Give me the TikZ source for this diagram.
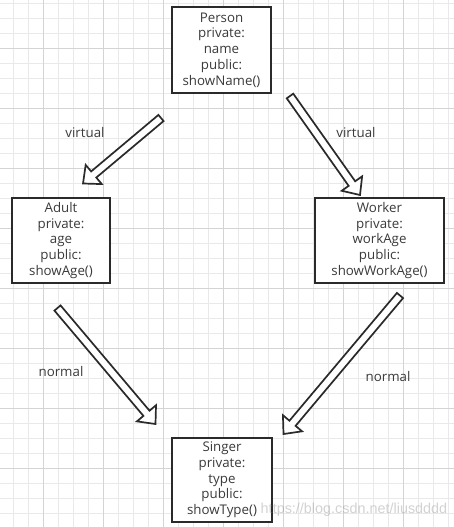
\documentclass[tikz,border=0pt]{standalone}
\usepackage{fontspec}
\setmainfont{Open Sans}
\newfontfamily\markfont{Liberation Sans}
\usetikzlibrary{calc}

\definecolor{gridminor}{HTML}{E9E9E9}
\definecolor{gridmajor}{HTML}{D4D4D4}
\definecolor{ink}{HTML}{2A2A2A}
\definecolor{txt}{HTML}{3A3A3A}

\tikzset{
    classbox/.style = {
        draw = ink,
        line width = 2pt,
        fill = white,
        inner sep = 0pt,
        align = center,
        text = txt,
        font = \fontsize{13.3}{15.7}\selectfont
    },
    edgelabel/.style = {
        text = txt,
        font = \fontsize{13.3}{15}\selectfont
    },
    hollow/.style = {
        draw = ink,
        line width = 1.7pt,
        line join = miter,
        fill = white
    }
}

% block arrow from tail #1 to tip #2
\newcommand{\hollowarrow}[2]{
    \coordinate (hbase) at ($(#2)!14pt!(#1)$);
    \filldraw[hollow]
    ($(#1)!4pt!90:(#2)$) -- ($(hbase)!4pt!90:(#2)$) -- ($(hbase)!12.5pt!90:(#2)$)
    -- (#2)
    -- ($(hbase)!12.5pt!-90:(#2)$) -- ($(hbase)!4pt!-90:(#2)$) -- ($(#1)!4pt!-90:(#2)$) -- cycle;
}

\begin{document}
\begin{tikzpicture}[x=1pt, y=-1pt]
            \useasboundingbox (0,0) rectangle (454,527);
            \fill[white] (0,0) rectangle (454,527);
            % grid paper
            \foreach \gx in {13.3,28.3,...,449} {
                \draw[gridminor, line width=0.8pt] (\gx,0) -- (\gx,527);
            }
            \foreach \gy in {3.3,18.3,...,527} {
                \draw[gridminor, line width=0.8pt] (0,\gy) -- (454,\gy);
            }
            \foreach \gx in {43.3,103.3,...,449} {
                \draw[gridmajor, line width=0.8pt] (\gx,0) -- (\gx,527);
            }
            \foreach \gy in {48.3,108.3,...,527} {
                \draw[gridmajor, line width=0.8pt] (0,\gy) -- (454,\gy);
            }

            % classes
            \node[classbox, minimum width=99pt, minimum height=86pt] (person) at (221.5,50)
                {Person\\private:\\name\\public:\\showName()};
            \node[classbox, minimum width=98pt, minimum height=85pt] (adult) at (61,240.5)
                {Adult\\private:\\age\\public:\\showAge()};
            \node[classbox, minimum width=129pt, minimum height=85pt] (worker) at (379.5,240.5)
                {Worker\\private:\\workAge\\public:\\showWorkAge()};
            \node[classbox, minimum width=100pt, minimum height=84pt] (singer) at (222,480)
                {Singer\\private:\\type\\public:\\showType()};

            % arrow ends
            \coordinate (pa-tail) at (161,118);
            \coordinate (pa-tip) at (83,183.5);
            \coordinate (pw-tail) at (290,96);
            \coordinate (pw-tip) at (360,195);
            \coordinate (as-tail) at (57.5,308);
            \coordinate (as-tip) at (155.5,424);
            \coordinate (ws-tail) at (400,295.5);
            \coordinate (ws-tip) at (283.5,434);

            \hollowarrow{pa-tail}{pa-tip}
            \hollowarrow{pw-tail}{pw-tip}
            \hollowarrow{as-tail}{as-tip}
            \hollowarrow{ws-tail}{ws-tip}

            % inheritance kinds
            \node[edgelabel] (lbl-pa) at (85,132.5) {virtual};
            \node[edgelabel] (lbl-pw) at (356,132.5) {virtual};
            \node[edgelabel] (lbl-as) at (61,372) {normal};
            \node[edgelabel] (lbl-ws) at (388,376.5) {normal};

            % watermark
            \node[text=gray, opacity=0.35, font=\markfont\fontsize{14.4}{16}\selectfont] (mark) at (354,509.5)
                {https://blog.csdn.net/liusdddd};
        \end{tikzpicture}
\end{document}
